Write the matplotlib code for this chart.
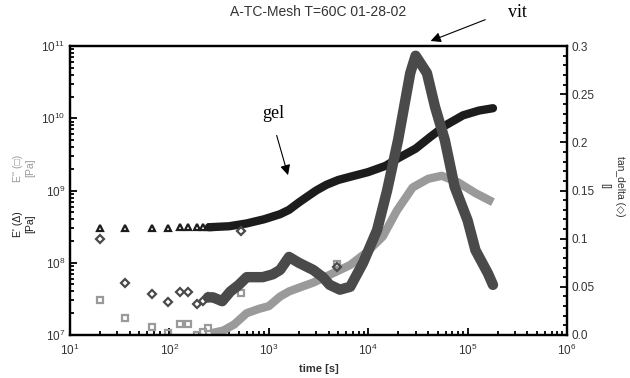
import matplotlib
matplotlib.use('Agg')
import matplotlib.pyplot as plt
from matplotlib.ticker import LogLocator, MultipleLocator, FixedLocator, FixedFormatter

plt.rcParams['font.family'] = ['Liberation Sans', 'DejaVu Sans']

# sparse early readings (markers)
t_early = [20, 36, 67, 97, 128, 154, 189, 218, 244]
e1_early = [3.0e8, 3.05e8, 3.05e8, 3.05e8, 3.1e8, 3.1e8, 3.1e8, 3.1e8, 3.1e8]
e2_early = [3.0e7, 1.7e7, 1.3e7, 1.07e7, 1.4e7, 1.4e7, 1.0e7, 1.1e7, 1.25e7]
tan_early = [0.100, 0.054, 0.043, 0.034, 0.045, 0.045, 0.032, 0.035, 0.039]

# stray points
t_stray = [526, 4900]
e2_stray = [3.8e7, 9.6e7]
tan_stray = [0.108, 0.071]

# dense part of the run
t_e1 = [250, 400, 600, 900, 1300, 1600, 2000, 2400, 3000, 3800, 5000, 6600,
        1.0e4, 1.5e4, 2.0e4, 3.0e4, 4.2e4, 6.0e4, 9.0e4, 1.3e5, 1.8e5]
e1 = [3.1e8, 3.2e8, 3.5e8, 4.0e8, 4.7e8, 5.4e8, 6.8e8, 8.1e8, 1.0e9, 1.2e9,
      1.4e9, 1.55e9, 1.8e9, 2.2e9, 2.8e9, 3.8e9, 5.5e9, 8.0e9, 1.1e10,
      1.28e10, 1.38e10]

t_e2 = [260, 350, 450, 600, 800, 1000, 1300, 1600, 2100, 2800, 4100, 6600,
        9700, 1.4e4, 1.95e4, 2.8e4, 4.0e4, 5.5e4, 8.0e4, 1.2e5, 1.8e5]
e2 = [1.05e7, 1.15e7, 1.4e7, 2.0e7, 2.3e7, 2.5e7, 3.4e7, 4.0e7, 4.6e7,
      5.3e7, 6.8e7, 9.3e7, 1.4e8, 2.3e8, 5.3e8, 1.1e9, 1.45e9, 1.6e9,
      1.3e9, 9.2e8, 6.9e8]

t_tan = [244, 275, 340, 410, 500, 600, 870, 1100, 1300, 1600, 2000, 2800,
         3500, 4100, 5200, 6600, 8900, 1.23e4, 1.55e4, 2.0e4, 2.3e4, 2.65e4,
         3.0e4, 3.9e4, 4.7e4, 5.9e4, 7.4e4, 1.0e5, 1.2e5, 1.6e5, 1.8e5]
tan_d = [0.039, 0.039, 0.035, 0.045, 0.052, 0.060, 0.060, 0.063, 0.0675,
         0.081, 0.075, 0.0675, 0.060, 0.052, 0.047, 0.050, 0.075, 0.109,
         0.150, 0.2025, 0.237, 0.272, 0.290, 0.272, 0.237, 0.2025, 0.154,
         0.119, 0.088, 0.064, 0.052]

tan_ticks = [0.0, 0.05, 0.1, 0.15, 0.2, 0.25, 0.3]
tan_labels = ['0.0', '0.05', '0.1', '0.15', '0.2', '0.25', '0.3']

c_e1 = '#1c1c1c'
c_e2 = '#9a9a9a'
c_tan = '#4a4a4a'
c_txt = '#333333'

fig = plt.figure(figsize=(6.3, 3.78), dpi=100)
ax = fig.add_axes([0.111, 0.114, 0.789, 0.764])
ax2 = ax.twinx()

ax.plot(t_e1, e1, color=c_e1, lw=6, solid_capstyle='round', zorder=3)
ax.plot(t_early, e1_early, ls='none', marker='^', ms=5, mfc='none',
        mec=c_e1, mew=1.6, zorder=3)
ax.plot(t_e2, e2, color=c_e2, lw=6, solid_capstyle='butt', zorder=2)
ax.plot(t_early + t_stray, e2_early + e2_stray, ls='none', marker='s', ms=4.5,
        mfc='none', mec=c_e2, mew=1.6, zorder=2)

ax2.plot(t_tan, tan_d, color=c_tan, lw=7.5, solid_capstyle='round', zorder=4)
ax2.plot(t_early + t_stray, tan_early + tan_stray, ls='none', marker='D',
         ms=4.5, mfc='none', mec=c_tan, mew=1.6, zorder=4)

ax.set_xscale('log')
ax.set_yscale('log')
ax.set_xlim(10, 1e6)
ax.set_ylim(1e7, 1e11)
ax2.set_ylim(0, 0.3)

ax.xaxis.set_major_locator(LogLocator(base=10, numticks=10))
ax.xaxis.set_minor_locator(LogLocator(base=10, subs=range(2, 10), numticks=10))
ax.yaxis.set_major_locator(LogLocator(base=10, numticks=10))
ax.yaxis.set_minor_locator(LogLocator(base=10, subs=range(2, 10), numticks=10))
ax2.yaxis.set_major_locator(FixedLocator(tan_ticks))
ax2.yaxis.set_major_formatter(FixedFormatter(tan_labels))
ax2.yaxis.set_minor_locator(MultipleLocator(0.01))

ax.tick_params(axis='both', which='both', direction='in', top=False,
               right=False, colors='black', labelcolor=c_txt, labelsize=8.5,
               width=1.3)
ax.tick_params(which='major', length=5)
ax.tick_params(which='minor', length=3)
ax2.tick_params(axis='y', which='both', direction='in', labelcolor=c_txt,
                labelsize=8.5, width=1.3)
ax2.tick_params(which='major', length=5)
ax2.tick_params(which='minor', length=3)
ax.tick_params(axis='x', pad=6)

for a in (ax, ax2):
    for sp in a.spines.values():
        sp.set_linewidth(1.6)

fig.text(0.505, 0.968, 'A-TC-Mesh T=60C 01-28-02', ha='center', va='center',
         fontsize=10, color=c_txt)
fig.text(0.506, 0.024, 'time [s]', ha='center', va='center', fontsize=8,
         fontweight='bold', color=c_txt)

fig.text(0.038, 1 - 224 / 378, "E' (\u0394)\n[Pa]", rotation=90, ha='center',
         va='center', fontsize=7.5, color=c_e1, linespacing=1.3)
fig.text(0.038, 1 - 168 / 378, "E'' (\u25a1)\n[Pa]", rotation=90, ha='center',
         va='center', fontsize=7.5, color=c_e2, linespacing=1.3)
fig.text(0.972, 1 - 186 / 378, "tan_delta (\u25c7)\n[]", rotation=270,
         ha='center', va='center', fontsize=7.5, color=c_txt, linespacing=1.6)

arrow = dict(arrowstyle='-|>', color='black', lw=0.8, mutation_scale=15)
ax.annotate('', xy=(1590, 1.5e9), xytext=(1180, 6.3e9), arrowprops=arrow)
ax.text(1120, 1.15e10, 'gel', family='Liberation Serif', fontsize=13,
        ha='center', va='center')
ax.annotate('', xy=(4.0e4, 1.14e11), xytext=(1.6e5, 2.4e11),
            arrowprops=arrow, annotation_clip=False)
ax.text(3.2e5, 2.9e11, 'vit', family='Liberation Serif', fontsize=13,
        ha='center', va='center', clip_on=False)

fig.savefig('out.png', dpi=100)
